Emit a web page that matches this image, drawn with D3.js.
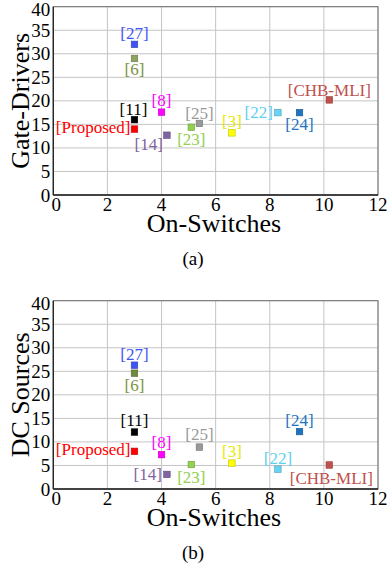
<!DOCTYPE html>
<html>
<head>
<meta charset="utf-8">
<script src="https://cdn.jsdelivr.net/npm/d3@7"></script>
<style>
  body { margin: 0; background: #fff; }
  text { font-family: "Liberation Serif", "Times New Roman", serif; }
</style>
</head>
<body>
<svg id="chart" width="387" height="572"></svg>
<script>
// data
var refs = ['[27]', '[6]', '[11]', '[Proposed]', '[8]', '[14]', '[23]', '[25]', '[3]', '[22]', '[24]', '[CHB-MLI]'];
var onSwitches = [3, 3, 3, 3, 4, 4.2, 5.1, 5.4, 6.6, 8.3, 9.1, 10.2];
var gateDrivers = [32, 29, 16, 14, 17.6, 12.7, 14.4, 15.2, 13.2, 17.5, 17.5, 20.2];
var dcSources = [26.3, 24.6, 12.1, 8, 7.3, 3.1, 5.2, 8.9, 5.5, 4.2, 12.2, 5.1];
var colors = ['#3f55f2', '#8ea35e', '#000000', '#ff0000', '#ff00ff', '#8064a2', '#92d050', '#999999', '#ffff00', '#66d4f5', '#1e74c0', '#c0504d'];
var colorsB = ['#3f55f2', '#6f8c3e', '#000000', '#ff0000', '#ff00ff', '#8064a2', '#92d050', '#999999', '#ffff00', '#66d4f5', '#1e74c0', '#c0504d'];
var textColors = ['#3f55f2', '#7a9440', '#000000', '#ff0000', '#ff00ff', '#8064a2', '#92d050', '#999999', '#e8e800', '#5cd0f0', '#1e74c0', '#c0504d'];
var xTicks = [0, 2, 4, 6, 8, 10, 12];
var yTicks = [0, 5, 10, 15, 20, 25, 30, 35, 40];

// label placement: [anchor, dx, dy] relative to the marker
var labelsA = [['middle', 0, -5], ['middle', 0, 17], ['middle', -1, -5], ['end', -4, 4],
  ['middle', 0, -6], ['end', -4, 15], ['middle', 0, 18], ['middle', 0, -4],
  ['middle', 0, -6], ['end', -5, 5], ['middle', 0, 17], ['middle', 0, -4]];
var labelsB = [['middle', 0, -5], ['middle', 0, 18], ['middle', 0, -6], ['end', -4, 4],
  ['middle', 0, -7], ['end', -5, 6], ['middle', 0, 18], ['middle', 0, -7],
  ['middle', 0, -6], ['middle', 0, -5], ['middle', 0, -6], ['middle', 2, 19]];

var svg = d3.select('#chart');

function panel(top, ys, cols, labels, yTitle, caption) {
  var left = 53.3, right = 378, h = 188.3;
  var x = d3.scaleLinear().domain([0, 12]).range([left, right]);
  var y = d3.scaleLinear().domain([0, 40]).range([top + h, top]);
  var g = svg.append('g');

  g.selectAll('.gx').data(xTicks).enter().append('line')
    .attr('x1', function(d) { return x(d); }).attr('x2', function(d) { return x(d); })
    .attr('y1', top).attr('y2', top + h)
    .attr('stroke', '#c4c4c4').attr('stroke-width', 1);
  g.selectAll('.gy').data(yTicks).enter().append('line')
    .attr('y1', function(d) { return y(d); }).attr('y2', function(d) { return y(d); })
    .attr('x1', left).attr('x2', right)
    .attr('stroke', '#c4c4c4').attr('stroke-width', 1);
  g.append('rect').attr('x', left).attr('y', top).attr('width', right - left).attr('height', h)
    .attr('fill', 'none').attr('stroke', '#6e6e6e').attr('stroke-width', 1);
  g.append('line').attr('x1', left).attr('x2', left).attr('y1', top).attr('y2', top + h)
    .attr('stroke', '#222').attr('stroke-width', 1.3);
  g.append('line').attr('x1', left).attr('x2', right).attr('y1', top + h).attr('y2', top + h)
    .attr('stroke', '#222').attr('stroke-width', 1.3);

  g.selectAll('.ty').data(yTicks).enter().append('text')
    .attr('x', left - 3)
    .attr('y', function(d) { return Math.max(y(d) + 6.5, top + 9.5); })
    .attr('text-anchor', 'end').attr('font-size', 19)
    .text(function(d) { return d; });
  g.selectAll('.tx').data(xTicks).enter().append('text')
    .attr('x', function(d) { return d === 0 ? x(d) + 3 : x(d); }).attr('y', top + h + 16)
    .attr('text-anchor', 'middle').attr('font-size', 19)
    .text(function(d) { return d; });

  g.append('text').attr('x', 214).attr('y', top + h + 37)
    .attr('text-anchor', 'middle').attr('font-size', 26).text('On-Switches');
  g.append('text').attr('transform', 'translate(29,' + (top + h / 2) + ') rotate(-90)')
    .attr('text-anchor', 'middle').attr('font-size', 26).text(yTitle);
  g.append('text').attr('x', 193).attr('y', top + h + 70)
    .attr('text-anchor', 'middle').attr('font-size', 19).text(caption);

  var s = 6.5;
  g.selectAll('.pt').data(refs).enter().append('rect')
    .attr('x', function(d, i) { return x(onSwitches[i]) - s / 2; })
    .attr('y', function(d, i) { return y(ys[i]) - s / 2; })
    .attr('width', s).attr('height', s)
    .attr('fill', function(d, i) { return cols[i]; })
    .attr('stroke', function(d, i) { return d3.color(cols[i]).darker(0.8); })
    .attr('stroke-width', 0.6);

  g.selectAll('.lb').data(refs).enter().append('text')
    .attr('x', function(d, i) { return x(onSwitches[i]) + labels[i][1]; })
    .attr('y', function(d, i) { return y(ys[i]) + labels[i][2]; })
    .attr('text-anchor', function(d, i) { return labels[i][0]; })
    .attr('font-size', 17)
    .attr('fill', function(d, i) { return textColors[i]; })
    .text(function(d) { return d; });
}

panel(6.7, gateDrivers, colors, labelsA, 'Gate-Drivers', '(a)');
panel(300.7, dcSources, colorsB, labelsB, 'DC Sources', '(b)');
</script>
</body>
</html>
